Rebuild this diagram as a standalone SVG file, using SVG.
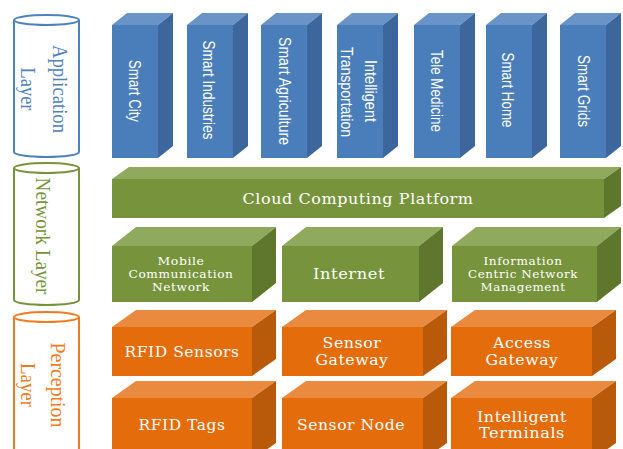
<svg xmlns="http://www.w3.org/2000/svg" width="623" height="449" viewBox="0 0 623 449">
<style>
.cyl{fill:#fff;stroke-width:2}
.bf{fill:#4A7EBB}.bt{fill:#6A93C8}.bs{fill:#3D679C}
.gf{fill:#77933C}.gt{fill:#8FAA5C}.gs{fill:#5E772C}
.of{fill:#E46C0A}.ot{fill:#EA8A3E}.os{fill:#B95A0A}
.lay{font-family:"Liberation Serif",serif;font-size:20px;text-anchor:middle;dominant-baseline:central}
.app{font-family:"Liberation Sans",sans-serif;font-size:17px;fill:#fff;text-anchor:middle;dominant-baseline:central}
.lbl{font-family:"DejaVu Serif",serif;fill:#fff;text-anchor:middle;dominant-baseline:central;letter-spacing:0.5px}
</style>
<rect width="623" height="449" fill="#fff"/>

<g id="application-layer">
<path class="cyl" stroke="#4F81BD" d="M14,20 L14,152 A32.5,5 0 0 0 79,152 L79,20"/>
<ellipse class="cyl" stroke="#4F81BD" cx="46.5" cy="20" rx="32.5" ry="5"/>
<text class="lay" fill="#4F81BD" transform="translate(60,89) rotate(90)" textLength="88" lengthAdjust="spacingAndGlyphs">Application</text>
<text class="lay" fill="#4F81BD" transform="translate(28,89) rotate(90)" textLength="43" lengthAdjust="spacingAndGlyphs">Layer</text>
</g>
<g id="network-layer">
<path class="cyl" stroke="#77933C" d="M14,168 L14,300 A32.5,5 0 0 0 79,300 L79,168"/>
<ellipse class="cyl" stroke="#77933C" cx="46.5" cy="168" rx="32.5" ry="5"/>
<text class="lay" fill="#77933C" transform="translate(43,236) rotate(90)" textLength="117" lengthAdjust="spacingAndGlyphs">Network Layer</text>
</g>
<g id="perception-layer">
<path class="cyl" stroke="#F07A22" d="M14,317 L14,455 A32.5,5 0 0 0 79,455 L79,317"/>
<ellipse class="cyl" stroke="#F07A22" cx="46.5" cy="317" rx="32.5" ry="5"/>
<text class="lay" fill="#F07A22" transform="translate(58,385) rotate(90)" textLength="85" lengthAdjust="spacingAndGlyphs">Perception</text>
<text class="lay" fill="#F07A22" transform="translate(28,385) rotate(90)" textLength="44" lengthAdjust="spacingAndGlyphs">Layer</text>
</g>

<g id="smart-city">
<rect class="bf" x="112" y="25" width="46" height="133"/>
<polygon class="bt" points="112,25 127,13 173,13 158,25"/>
<polygon class="bs" points="158,25 173,13 173,146 158,158"/>
<text class="app" transform="translate(134,91) rotate(90)" textLength="62" lengthAdjust="spacingAndGlyphs">Smart City</text>
</g>
<g id="smart-industries">
<rect class="bf" x="187" y="25" width="46" height="133"/>
<polygon class="bt" points="187,25 202,13 248,13 233,25"/>
<polygon class="bs" points="233,25 248,13 248,146 233,158"/>
<text class="app" transform="translate(208,90) rotate(90)" textLength="99" lengthAdjust="spacingAndGlyphs">Smart Industries</text>
</g>
<g id="smart-agriculture">
<rect class="bf" x="261" y="25" width="46" height="133"/>
<polygon class="bt" points="261,25 276,13 322,13 307,25"/>
<polygon class="bs" points="307,25 322,13 322,146 307,158"/>
<text class="app" transform="translate(284,91) rotate(90)" textLength="108" lengthAdjust="spacingAndGlyphs">Smart Agriculture</text>
</g>
<g id="intelligent-transportation">
<rect class="bf" x="337" y="25" width="46" height="133"/>
<polygon class="bt" points="337,25 352,13 398,13 383,25"/>
<polygon class="bs" points="383,25 398,13 398,146 383,158"/>
<text class="app" transform="translate(370,91) rotate(90)" textLength="62" lengthAdjust="spacingAndGlyphs">Intelligent</text>
<text class="app" transform="translate(346,92) rotate(90)" textLength="90" lengthAdjust="spacingAndGlyphs">Transportation</text>
</g>
<g id="tele-medicine">
<rect class="bf" x="414" y="25" width="46" height="133"/>
<polygon class="bt" points="414,25 429,13 475,13 460,25"/>
<polygon class="bs" points="460,25 475,13 475,146 460,158"/>
<text class="app" transform="translate(436,91) rotate(90)" textLength="82" lengthAdjust="spacingAndGlyphs">Tele Medicine</text>
</g>
<g id="smart-home">
<rect class="bf" x="486" y="25" width="46" height="133"/>
<polygon class="bt" points="486,25 501,13 547,13 532,25"/>
<polygon class="bs" points="532,25 547,13 547,146 532,158"/>
<text class="app" transform="translate(507,90) rotate(90)" textLength="75" lengthAdjust="spacingAndGlyphs">Smart Home</text>
</g>
<g id="smart-grids">
<rect class="bf" x="560" y="25" width="46" height="133"/>
<polygon class="bt" points="560,25 575,13 621,13 606,25"/>
<polygon class="bs" points="606,25 621,13 621,146 606,158"/>
<text class="app" transform="translate(583,91) rotate(90)" textLength="72" lengthAdjust="spacingAndGlyphs">Smart Grids</text>
</g>

<g id="cloud-computing-platform">
<rect class="gf" x="112" y="179" width="492" height="39"/>
<polygon class="gt" points="112,179 129,167 621,167 604,179"/>
<polygon class="gs" points="604,179 621,167 621,206 604,218"/>
<text class="lbl" x="358" y="199" font-size="14" textLength="231" lengthAdjust="spacingAndGlyphs">Cloud Computing Platform</text>
</g>
<g id="mobile-communication-network">
<rect class="gf" x="112" y="246" width="140" height="56"/>
<polygon class="gt" points="112,246 136,227 276,227 252,246"/>
<polygon class="gs" points="252,246 276,227 276,283 252,302"/>
<text class="lbl" x="181" y="261" font-size="10.5" textLength="47" lengthAdjust="spacingAndGlyphs">Mobile</text>
<text class="lbl" x="181" y="274" font-size="10.5" textLength="105" lengthAdjust="spacingAndGlyphs">Communication</text>
<text class="lbl" x="181" y="287" font-size="10.5" textLength="58" lengthAdjust="spacingAndGlyphs">Network</text>
</g>
<g id="internet">
<rect class="gf" x="282" y="246" width="137" height="56"/>
<polygon class="gt" points="282,246 306,227 443,227 419,246"/>
<polygon class="gs" points="419,246 443,227 443,283 419,302"/>
<text class="lbl" x="349" y="274" font-size="14" textLength="72" lengthAdjust="spacingAndGlyphs">Internet</text>
</g>
<g id="information-centric-network-management">
<rect class="gf" x="452" y="246" width="145" height="56"/>
<polygon class="gt" points="452,246 476,227 621,227 597,246"/>
<polygon class="gs" points="597,246 621,227 621,283 597,302"/>
<text class="lbl" x="523" y="261" font-size="10.5" textLength="79" lengthAdjust="spacingAndGlyphs">Information</text>
<text class="lbl" x="523" y="274" font-size="10.5" textLength="110" lengthAdjust="spacingAndGlyphs">Centric Network</text>
<text class="lbl" x="523" y="287" font-size="10.5" textLength="85" lengthAdjust="spacingAndGlyphs">Management</text>
</g>

<g id="rfid-sensors">
<rect class="of" x="112" y="327" width="140" height="49"/>
<polygon class="ot" points="112,327 136,310 276,310 252,327"/>
<polygon class="os" points="252,327 276,310 276,359 252,376"/>
<text class="lbl" x="182" y="352" font-size="14" textLength="115" lengthAdjust="spacingAndGlyphs">RFID Sensors</text>
</g>
<g id="sensor-gateway">
<rect class="of" x="282" y="327" width="141" height="49"/>
<polygon class="ot" points="282,327 306,310 447,310 423,327"/>
<polygon class="os" points="423,327 447,310 447,359 423,376"/>
<text class="lbl" x="352" y="343" font-size="14" textLength="59" lengthAdjust="spacingAndGlyphs">Sensor</text>
<text class="lbl" x="352" y="360" font-size="14" textLength="73" lengthAdjust="spacingAndGlyphs">Gateway</text>
</g>
<g id="access-gateway">
<rect class="of" x="451" y="327" width="141" height="49"/>
<polygon class="ot" points="451,327 475,310 616,310 592,327"/>
<polygon class="os" points="592,327 616,310 616,359 592,376"/>
<text class="lbl" x="522" y="343" font-size="14" textLength="58" lengthAdjust="spacingAndGlyphs">Access</text>
<text class="lbl" x="522" y="360" font-size="14" textLength="73" lengthAdjust="spacingAndGlyphs">Gateway</text>
</g>
<g id="rfid-tags">
<rect class="of" x="112" y="398" width="140" height="62"/>
<polygon class="ot" points="112,398 136,381 276,381 252,398"/>
<polygon class="os" points="252,398 276,381 276,443 252,460"/>
<text class="lbl" x="182" y="425" font-size="14" textLength="87" lengthAdjust="spacingAndGlyphs">RFID Tags</text>
</g>
<g id="sensor-node">
<rect class="of" x="282" y="398" width="141" height="62"/>
<polygon class="ot" points="282,398 306,381 447,381 423,398"/>
<polygon class="os" points="423,398 447,381 447,443 423,460"/>
<text class="lbl" x="351" y="425" font-size="14" textLength="108" lengthAdjust="spacingAndGlyphs">Sensor Node</text>
</g>
<g id="intelligent-terminals">
<rect class="of" x="451" y="398" width="141" height="62"/>
<polygon class="ot" points="451,398 475,381 616,381 592,398"/>
<polygon class="os" points="592,398 616,381 616,443 592,460"/>
<text class="lbl" x="522" y="417" font-size="14" textLength="90" lengthAdjust="spacingAndGlyphs">Intelligent</text>
<text class="lbl" x="522" y="433" font-size="14" textLength="86" lengthAdjust="spacingAndGlyphs">Terminals</text>
</g>
</svg>
